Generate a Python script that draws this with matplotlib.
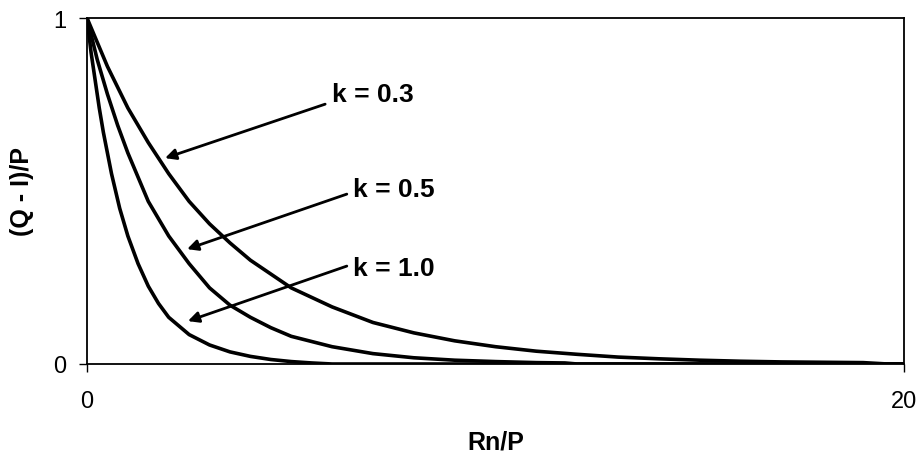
# (Q - I)/P against Rn/P for three values of k

import matplotlib
matplotlib.use('Agg')
import matplotlib.pyplot as plt

plt.rcParams['font.family'] = ['Liberation Sans', 'DejaVu Sans']

# values
x_k03 = [0, 0.5, 1, 1.5, 2, 2.5, 3, 3.5, 4, 5, 6, 7, 8, 9, 10, 11, 12, 13, 14, 15, 16, 17, 18, 19, 19.6, 20]
y_k03 = [1, 0.86, 0.74, 0.64, 0.55, 0.47, 0.405, 0.35, 0.30, 0.22, 0.165, 0.12, 0.09, 0.067, 0.05,
         0.037, 0.028, 0.02, 0.015, 0.011, 0.008, 0.006, 0.005, 0.004, 0, 0]

x_k05 = [0, 0.25, 0.5, 0.75, 1, 1.5, 2, 2.5, 3, 3.5, 4, 4.5, 5, 6, 7, 8, 9, 10, 11, 11.7, 12, 20]
y_k05 = [1, 0.88, 0.78, 0.69, 0.61, 0.47, 0.37, 0.29, 0.22, 0.17, 0.135, 0.105, 0.08, 0.05, 0.03,
         0.018, 0.011, 0.007, 0.004, 0.003, 0, 0]

x_k10 = [0, 0.1, 0.2, 0.3, 0.4, 0.5, 0.6, 0.8, 1.0, 1.25, 1.5, 1.75, 2, 2.5, 3, 3.5, 4, 4.5, 5, 5.5, 6, 20]
y_k10 = [1, 0.90, 0.82, 0.74, 0.67, 0.61, 0.55, 0.45, 0.37, 0.29, 0.225, 0.175, 0.135, 0.085, 0.055,
         0.035, 0.022, 0.013, 0.007, 0.003, 0, 0]

labels = ['k = 0.3', 'k = 0.5', 'k = 1.0']
arrow_tips = [(1.91, 0.595), (2.45, 0.332), (2.47, 0.124)]
arrow_tails = [(5.83, 0.751), (6.36, 0.491), (6.36, 0.283)]
label_pos = [(6.0, 0.78), (6.51, 0.506), (6.51, 0.277)]

fig = plt.figure(figsize=(9.22, 4.64), dpi=100)
ax = fig.add_axes([87/922, 1 - 365/464, (904-87)/922, (365-19)/464])

for xs, ys in [(x_k03, y_k03), (x_k05, y_k05), (x_k10, y_k10)]:
    ax.plot(xs, ys, color='black', lw=2.6, solid_joinstyle='round')

for lab, tip, tail, pos in zip(labels, arrow_tips, arrow_tails, label_pos):
    ax.annotate('', xy=tip, xytext=tail,
                arrowprops=dict(arrowstyle='-|>', color='black', lw=2,
                                mutation_scale=16, shrinkA=0, shrinkB=0))
    ax.text(pos[0], pos[1], lab, fontsize=19, fontweight='bold', va='center', ha='left')

ax.set_xlim(0, 20)
ax.set_ylim(0, 1)
ax.set_xticks([0, 20])
ax.set_yticks([0, 1])
ax.tick_params(axis='both', direction='out', length=6, width=1, labelsize=17)
ax.tick_params(axis='x', pad=13)
ax.tick_params(axis='y', pad=9)
for s in ax.spines.values():
    s.set_linewidth(1.3)

ax.set_xlabel('Rn/P', fontsize=18, fontweight='bold', labelpad=12)
ax.set_ylabel('(Q - I)/P', fontsize=18, fontweight='bold', labelpad=14)

fig.savefig('out.png', dpi=100)
